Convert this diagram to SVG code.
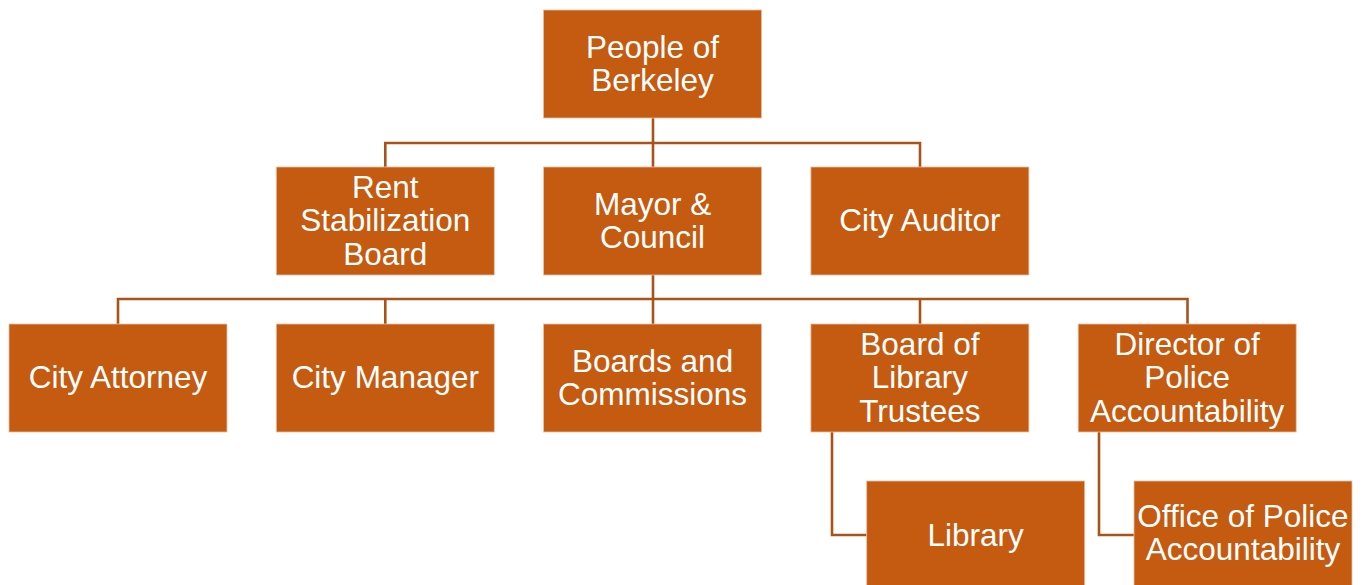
<svg xmlns="http://www.w3.org/2000/svg" width="1365" height="585" viewBox="0 0 1365 585">
<style>
.box{fill:#C55A11;stroke:#E9BFA3;stroke-width:0.8}
.t{font-family:"Liberation Sans",Arial,sans-serif;font-size:31.5px;fill:#FFFFFF;text-anchor:middle}
.c{fill:none;stroke:#A9531B;stroke-width:2.6}
</style>
<rect width="1365" height="585" fill="#FFFFFF"/>
<g id="connectors">
<path class="c" d="M653 118 V167 M385.3 167 V143 H920 V167"/>
<path class="c" d="M653 275 V324 M118 324 V299 H1187.5 V324 M385.3 299 V324 M920 299 V324"/>
<path class="c" d="M832 432 V535 H866.7"/>
<path class="c" d="M1099 432 V535 H1134"/>
</g>
<g id="people"><rect class="box" x="543.5" y="10" width="218" height="108"/><text class="t" x="652.5"><tspan x="652.5" y="57.7">People of</tspan><tspan x="652.5" y="91">Berkeley</tspan></text></g>
<g id="rent"><rect class="box" x="276.3" y="167" width="218" height="108"/><text class="t"><tspan x="385.3" y="198">Rent</tspan><tspan x="385.3" y="231.3">Stabilization</tspan><tspan x="385.3" y="264.6">Board</tspan></text></g>
<g id="mayor"><rect class="box" x="543.6" y="167" width="218" height="108"/><text class="t"><tspan x="652.6" y="214.7">Mayor &amp;</tspan><tspan x="652.6" y="248">Council</tspan></text></g>
<g id="auditor"><rect class="box" x="810.9" y="167" width="218" height="108"/><text class="t" x="919.9" y="231.3">City Auditor</text></g>
<g id="attorney"><rect class="box" x="9" y="324" width="218" height="108"/><text class="t" x="118" y="388.3">City Attorney</text></g>
<g id="manager"><rect class="box" x="276.3" y="324" width="218" height="108"/><text class="t" x="385.3" y="388.3">City Manager</text></g>
<g id="boards"><rect class="box" x="543.6" y="324" width="218" height="108"/><text class="t"><tspan x="652.6" y="371.7">Boards and</tspan><tspan x="652.6" y="405">Commissions</tspan></text></g>
<g id="library-trustees"><rect class="box" x="810.9" y="324" width="218" height="108"/><text class="t"><tspan x="919.9" y="355">Board of</tspan><tspan x="919.9" y="388.3">Library</tspan><tspan x="919.9" y="421.6">Trustees</tspan></text></g>
<g id="director"><rect class="box" x="1078.2" y="324" width="218" height="108"/><text class="t"><tspan x="1187.2" y="355">Director of</tspan><tspan x="1187.2" y="388.3">Police</tspan><tspan x="1187.2" y="421.6">Accountability</tspan></text></g>
<g id="library"><rect class="box" x="866.7" y="481" width="218" height="108"/><text class="t" x="975.7" y="546">Library</text></g>
<g id="office"><rect class="box" x="1134" y="481" width="218" height="108"/><text class="t"><tspan x="1243" y="527">Office of Police</tspan><tspan x="1243" y="560.3">Accountability</tspan></text></g>
</svg>
